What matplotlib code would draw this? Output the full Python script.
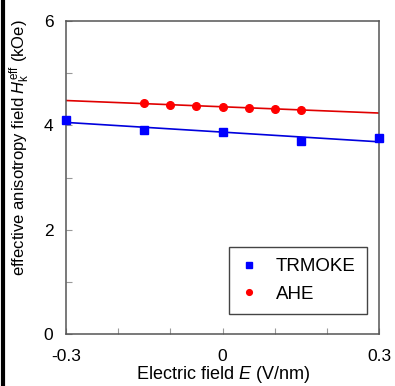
import numpy as np
import matplotlib
matplotlib.use("Agg")
import matplotlib.pyplot as plt
from matplotlib.lines import Line2D

plt.rcParams['font.family'] = ['Liberation Sans', 'DejaVu Sans']
plt.rcParams['mathtext.fontset'] = 'custom'
plt.rcParams['mathtext.rm'] = 'Liberation Sans'
plt.rcParams['mathtext.it'] = 'Liberation Sans:italic'

# data
e_trmoke = [-0.3, -0.15, 0.0, 0.15, 0.3]
h_trmoke = [4.11, 3.91, 3.88, 3.70, 3.75]
e_ahe = [-0.15, -0.1, -0.05, 0.0, 0.05, 0.1, 0.15]
h_ahe = [4.42, 4.39, 4.37, 4.36, 4.34, 4.32, 4.29]

fig = plt.figure(figsize=(3.95, 3.86), dpi=100)
ax = fig.add_axes([66 / 395, 1 - 334 / 386, 313 / 395, 313 / 386])

# linear fits over the full field range
xf = np.array([-0.3, 0.3])
pb = np.polyfit(e_trmoke, h_trmoke, 1)
pr = np.polyfit(e_ahe, h_ahe, 1)
ax.plot(xf, np.polyval(pr, xf), color='#e00000', lw=1.2, zorder=2)
ax.plot(xf, np.polyval(pb, xf), color='#0000dd', lw=1.2, zorder=2)

ax.plot(e_trmoke, h_trmoke, 's', color='#0000ff', ms=5.5, ls='none',
        clip_on=False, zorder=3, label='TRMOKE')
ax.plot(e_ahe, h_ahe, 'o', color='#ff0000', ms=5.5, ls='none',
        clip_on=False, zorder=3, label='AHE')

ax.set_xlim(-0.3, 0.3)
ax.set_ylim(0, 6)
ax.set_xticks([-0.3, 0, 0.3])
ax.set_xticklabels(['-0.3', '0', '0.3'])
ax.set_xticks([-0.2, -0.1, 0.1, 0.2], minor=True)
ax.set_yticks([0, 2, 4, 6])
ax.set_yticks([1, 3, 5], minor=True)
ax.tick_params(which='both', direction='in', length=4, width=0.8,
               color='#999999', labelsize=12.5)
ax.tick_params(axis='x', which='both', bottom=True, top=False, pad=11)
ax.tick_params(axis='y', which='both', left=True, right=False, pad=9)
for s in ax.spines.values():
    s.set_color('#555555')
    s.set_linewidth(1.1)

ax.set_xlabel(r'Electric field $E$ (V/nm)', fontsize=13, labelpad=0)
ax.set_ylabel(r'effective anisotropy field $H_\mathrm{k}^\mathrm{eff}$ (kOe)',
              fontsize=12)
ax.yaxis.set_label_coords(-0.108, 0.595)

leg = ax.legend(loc='lower right', bbox_to_anchor=(0.962, 0.064),
                borderaxespad=0, fontsize=13.5, markerscale=0.75,
                handlelength=0.9, handletextpad=1.0, borderpad=0.6,
                labelspacing=0.55, fancybox=False, frameon=True)
leg.get_frame().set_edgecolor('#444444')
leg.get_frame().set_linewidth(1.0)
leg.get_frame().set_alpha(1)

# black border on the left edge of the picture
fig.add_artist(Line2D([3 / 395, 3 / 395], [0, 1], color='black', lw=3,
                      transform=fig.transFigure))

fig.savefig('out.png', dpi=100)
